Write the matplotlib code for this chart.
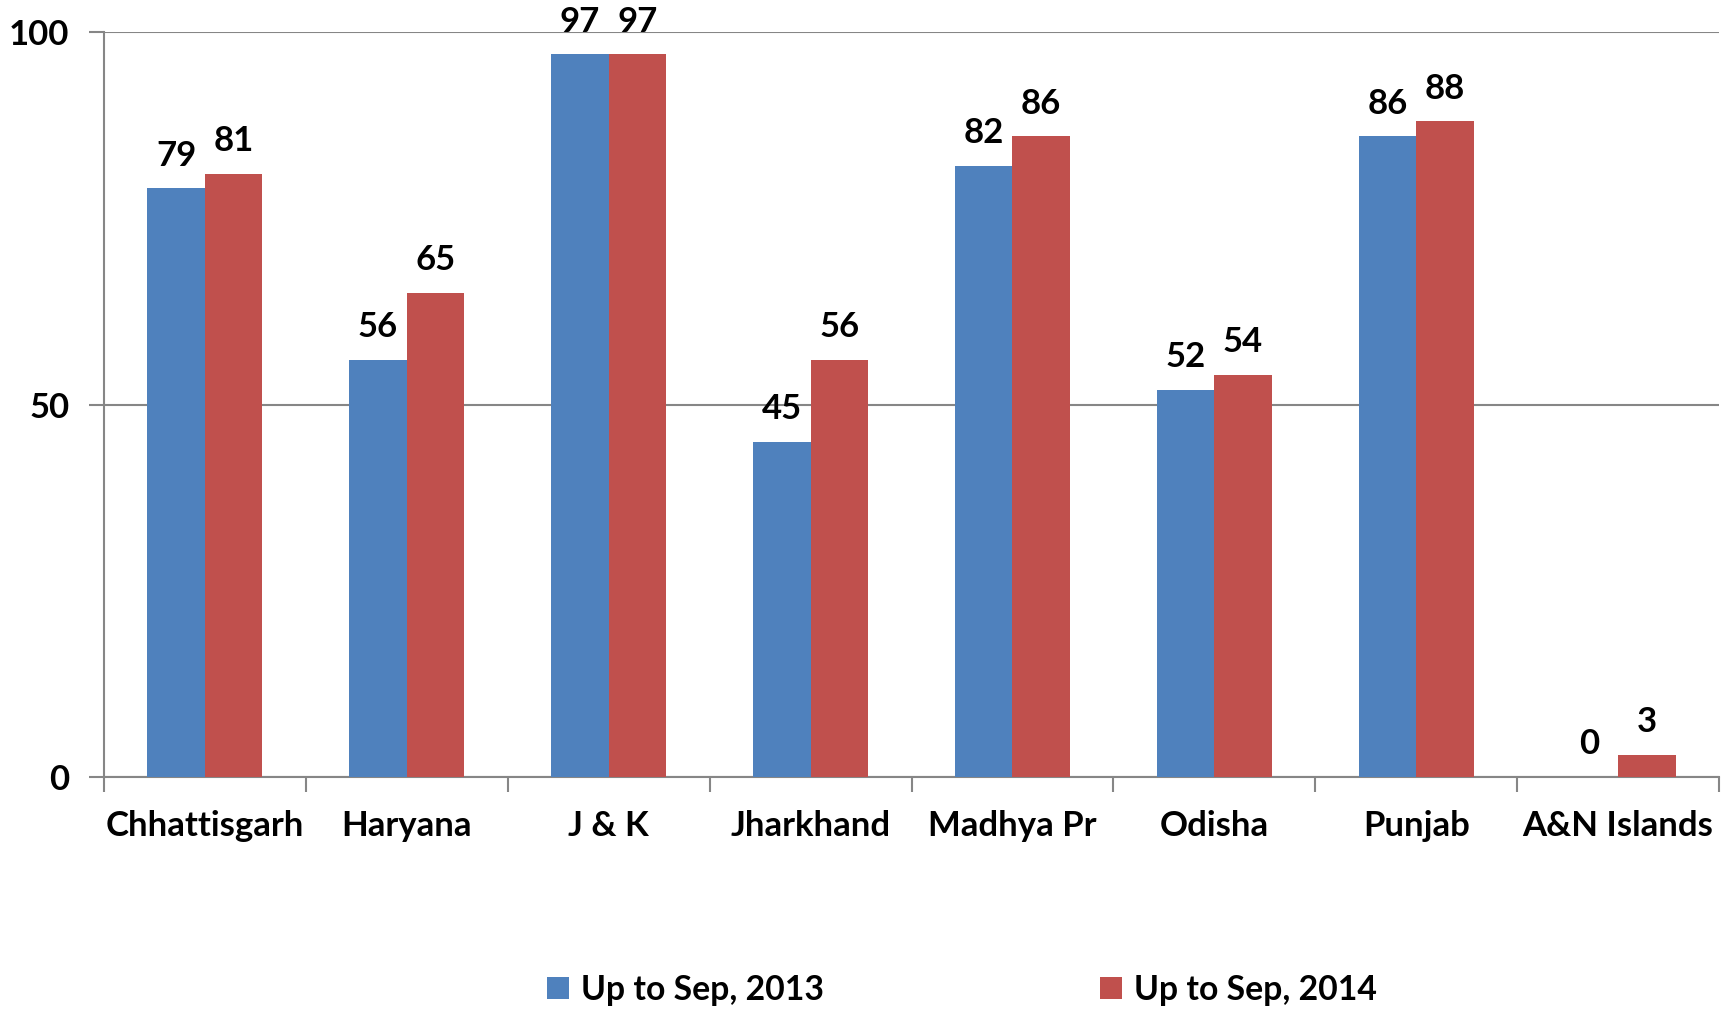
import matplotlib
matplotlib.use("Agg")
import matplotlib.pyplot as plt
import numpy as np

categories = ["Chhattisgarh", "Haryana", "J & K", "Jharkhand", "Madhya Pr", "Odisha", "Punjab", "A&N Islands"]
series_2013 = [79, 56, 97, 45, 82, 52, 86, 0]
series_2014 = [81, 65, 97, 56, 86, 54, 88, 3]
series_names = ["Up to Sep, 2013", "Up to Sep, 2014"]
yticks = [0, 50, 100]

plt.rcParams['font.family'] = ['Lato', 'DejaVu Sans']
plt.rcParams['font.weight'] = 'bold'

fig = plt.figure(figsize=(17.29, 10.09), dpi=100)
ax = fig.add_axes([104/1729, 1-777/1009, (1719-104)/1729, (777-32)/1009])

x = np.arange(len(categories))
w = 0.285
blue = "#4F81BD"
red = "#C0504D"
b1 = ax.bar(x - w/2, series_2013, w, color=blue, label=series_names[0], zorder=3)
b2 = ax.bar(x + w/2, series_2014, w, color=red, label=series_names[1], zorder=3)

fs = 25
for bars in (b1, b2):
    ax.bar_label(bars, labels=[f"{v:g}" for v in bars.datavalues], padding=12,
                 fontsize=fs, fontweight='bold', color='black')

ax.set_xlim(-0.5, len(categories) - 0.5)
ax.set_ylim(0, 100)
ax.set_yticks(yticks)
ax.set_yticklabels([str(t) for t in yticks], fontsize=fs, fontweight='bold')
ax.yaxis.grid(True, color="#868686", linewidth=1.5, zorder=0)
ax.set_axisbelow(True)

ax.set_xticks(np.arange(len(categories) + 1) - 0.5, minor=False)
ax.set_xticklabels([])
ax.set_xticks(x, minor=True)
ax.set_xticklabels(categories, minor=True, fontsize=fs, fontweight='bold')
ax.tick_params(axis='x', which='minor', length=0, pad=24)
ax.tick_params(axis='x', which='major', length=11, width=1.5, color="#868686")
ax.tick_params(axis='y', length=11, width=1.5, color="#868686", pad=14)

for s in ['top', 'right']:
    ax.spines[s].set_visible(False)
for s in ['left', 'bottom']:
    ax.spines[s].set_color("#868686")
    ax.spines[s].set_linewidth(1.5)

lfs = 24.3
leg = fig.legend(handles=[b1, b2], labels=series_names, loc='center',
                 bbox_to_anchor=(962/1729, 1-990/1009), ncol=2, frameon=False,
                 handlelength=0.65, handleheight=0.65, handletextpad=0.35,
                 columnspacing=8.2, prop={'weight': 'bold', 'size': lfs})

fig.savefig("out.png", dpi=100)
